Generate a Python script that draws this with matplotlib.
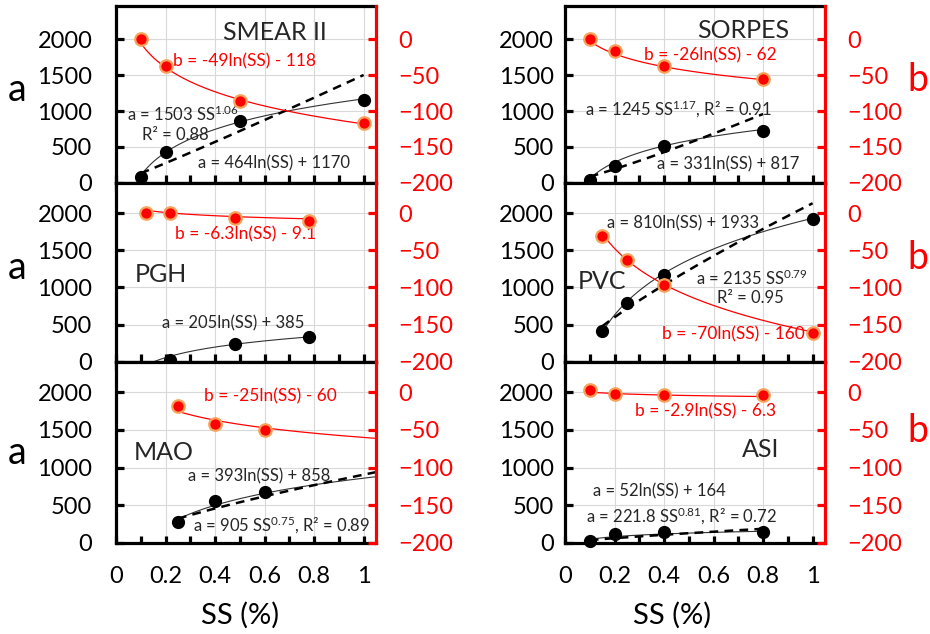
import numpy as np
import matplotlib.pyplot as plt
from matplotlib.ticker import MultipleLocator

plt.rcParams['font.family'] = ['Lato', 'DejaVu Sans']
plt.rcParams['mathtext.fontset'] = 'custom'
plt.rcParams['mathtext.rm'] = 'Lato'
plt.rcParams['mathtext.it'] = 'Lato:italic'

# site names, panel order: left column top->bottom, then right column
sites = ['SMEAR II', 'PGH', 'MAO', 'SORPES', 'PVC', 'ASI']

# measured points (SS in %, a, b)
ss_smear = [0.1, 0.2, 0.5, 1.0]
a_smear = [80, 425, 860, 1160]
b_smear = [0, -37, -86, -117]

ss_pgh_a = [0.22, 0.48, 0.78]
a_pgh = [22, 235, 330]
ss_pgh_b = [0.12, 0.22, 0.48, 0.78]
b_pgh = [1, 1, -6, -10]

ss_mao = [0.25, 0.4, 0.6]
a_mao = [270, 555, 680]
b_mao = [-18, -42, -50]

ss_sorpes = [0.1, 0.2, 0.4, 0.8]
a_sorpes = [35, 240, 515, 725]
b_sorpes = [0, -16, -37, -55]

ss_pvc = [0.15, 0.25, 0.4, 1.0]
a_pvc = [420, 790, 1170, 1925]
b_pvc = [-31, -63, -96, -162]

ss_asi = [0.1, 0.2, 0.4, 0.8]
a_asi = [22, 115, 138, 142]
b_asi = [3, -2, -3, -3]

# trendline coefficients as printed in the chart
a_log = [(464, 1170), (205, 385), (393, 858), (331, 817), (810, 1933), (52, 164)]
a_pow = [(1503, 1.06), None, (905, 0.75), (1245, 1.17), (2135, 0.79), (221.8, 0.81)]
b_log = [(-49, -118), (-6.3, -9.1), (-25, -60), (-26, -62), (-70, -160), (-2.9, -6.3)]
fit_range = [(0.1, 1.0), (0.12, 0.78), (0.25, 1.05), (0.1, 0.8), (0.15, 1.0), (0.1, 0.8)]

points = [(ss_smear, a_smear, ss_smear, b_smear),
          (ss_pgh_a, a_pgh, ss_pgh_b, b_pgh),
          (ss_mao, a_mao, ss_mao, b_mao),
          (ss_sorpes, a_sorpes, ss_sorpes, b_sorpes),
          (ss_pvc, a_pvc, ss_pvc, b_pvc),
          (ss_asi, a_asi, ss_asi, b_asi)]

GREY = '#262626'
EQ = 12
REQ = 12.5
TT = 18
# text: (string, x, a-value, colour, ha, size)
notes = [
    [('SMEAR II', 0.64, 2100, GREY, 'center', TT),
     ('b = -49ln(SS) - 118', 0.52, 1700, 'red', 'center', REQ),
     (r'a = 1503 SS$^{\mathregular{1.06}}$', 0.043, 950, GREY, 'left', EQ),
     ('R² = 0.88', 0.24, 670, GREY, 'center', EQ),
     ('a = 464ln(SS) + 1170', 0.33, 275, GREY, 'left', EQ)],
    [('b = -6.3ln(SS) - 9.1', 0.525, 1715, 'red', 'center', REQ),
     ('PGH', 0.077, 1170, GREY, 'left', TT),
     ('a = 205ln(SS) + 385', 0.472, 510, GREY, 'center', EQ)],
    [('b = -25ln(SS) - 60', 0.625, 1950, 'red', 'center', REQ),
     ('MAO', 0.07, 1200, GREY, 'left', TT),
     ('a = 393ln(SS) + 858', 0.58, 885, GREY, 'center', EQ),
     (r'a = 905 SS$^{\mathregular{0.75}}$, R² = 0.89', 0.31, 235, GREY, 'left', EQ)],
    [('SORPES', 0.72, 2130, GREY, 'center', TT),
     ('b = -26ln(SS) - 62', 0.587, 1770, 'red', 'center', REQ),
     (r'a = 1245 SS$^{\mathregular{1.17}}$, R² = 0.91', 0.08, 1025, GREY, 'left', EQ),
     ('a = 331ln(SS) + 817', 0.373, 260, GREY, 'left', EQ)],
    [('a = 810ln(SS) + 1933', 0.171, 1865, GREY, 'left', EQ),
     ('PVC', 0.05, 1080, GREY, 'left', TT),
     (r'a = 2135 SS$^{\mathregular{0.79}}$', 0.753, 1125, GREY, 'center', EQ),
     ('R² = 0.95', 0.75, 855, GREY, 'center', EQ),
     ('b = -70ln(SS) - 160', 0.97, 370, 'red', 'right', REQ)],
    [('b = -2.9ln(SS) - 6.3', 0.567, 1740, 'red', 'center', REQ),
     ('ASI', 0.79, 1240, GREY, 'center', TT),
     ('a = 52ln(SS) + 164', 0.38, 680, GREY, 'center', EQ),
     (r'a = 221.8 SS$^{\mathregular{0.81}}$, R² = 0.72', 0.47, 345, GREY, 'center', EQ)],
]

W, H = 930, 634
fig = plt.figure(figsize=(9.3, 6.34), dpi=100)

col_left = [116, 565]
col_w = 260
rows = [(6, 182.7), (182.7, 361.7), (361.7, 542.7)]
a_top = [2466, 2412, 2407]

for i in range(6):
    col, row = divmod(i, 3)
    top, bot = rows[row]
    ax = fig.add_axes([col_left[col] / W, 1 - bot / H, col_w / W, (bot - top) / H])
    ax2 = ax.twinx()

    ax.set_xlim(0, 1.05)
    ax.set_ylim(0, a_top[row])
    ax2.set_ylim(-200, a_top[row] / 10 - 200)

    ax.xaxis.set_major_locator(MultipleLocator(0.2))
    ax.xaxis.set_minor_locator(MultipleLocator(0.1))
    ax.yaxis.set_major_locator(MultipleLocator(500))
    ax2.yaxis.set_major_locator(MultipleLocator(50))
    ax.grid(True, which='major', color='#d9d9d9', lw=0.8)
    ax.set_axisbelow(True)

    for s in ['left', 'bottom', 'top']:
        ax.spines[s].set_linewidth(2.3)
    ax.spines['right'].set_visible(False)
    for s in ['left', 'bottom', 'top']:
        ax2.spines[s].set_visible(False)
    ax2.spines['right'].set_color('red')
    ax2.spines['right'].set_linewidth(2.3)

    if row == 2:
        ax.tick_params(axis='x', which='both', direction='in', length=5, width=2.3,
                       pad=17, labelsize=17)
        ax.set_xticks([0, 0.2, 0.4, 0.6, 0.8, 1.0])
        ax.set_xticklabels(['0', '0.2', '0.4', '0.6', '0.8', '1'])
    else:
        ax.tick_params(axis='x', which='both', direction='inout', length=11, width=2.3,
                       labelbottom=False)
    ax.tick_params(axis='y', direction='in', length=6, width=2.3, labelsize=17,
                   pad=17 if col == 0 else 8)
    ax2.tick_params(axis='y', direction='in', length=6, width=2.3, colors='red',
                    labelsize=17, pad=16)

    ssa, aa, ssb, bb = points[i]
    x0, x1 = fit_range[i]
    xf = np.linspace(x0, x1, 200)
    k, c = a_log[i]
    ax.plot(xf, k * np.log(xf) + c, color='#333333', lw=0.8, zorder=3)
    if a_pow[i] is not None:
        p, e = a_pow[i]
        ax.plot(xf, p * xf ** e, color='black', lw=1.8, ls=(0, (3.5, 2.5)), zorder=3)
    ax.plot(ssa, aa, 'o', color='black', ms=8.5, zorder=4, clip_on=False)

    k, c = b_log[i]
    ax2.plot(xf, k * np.log(xf) + c, color='red', lw=0.9)
    ax2.plot(ssb, bb, 'o', mfc='red', mec='#f7a35c', mew=1.6, ms=9, clip_on=False)

    for txt, x, y, colr, ha, size in notes[i]:
        ax.text(x, y, txt, color=colr, ha=ha, va='center', fontsize=size, zorder=5)

# axis titles
for py in [90, 268, 453]:
    fig.text(17 / W, 1 - py / H, 'a', fontsize=27, ha='center', va='center')
for py in [80, 258, 431]:
    fig.text(918 / W, 1 - py / H, 'b', fontsize=27, color='red', ha='center', va='center')
for px in [240, 672]:
    fig.text(px / W, 1 - 615 / H, 'SS (%)', fontsize=21, ha='center', va='center')

fig.savefig('out.png', dpi=100)
